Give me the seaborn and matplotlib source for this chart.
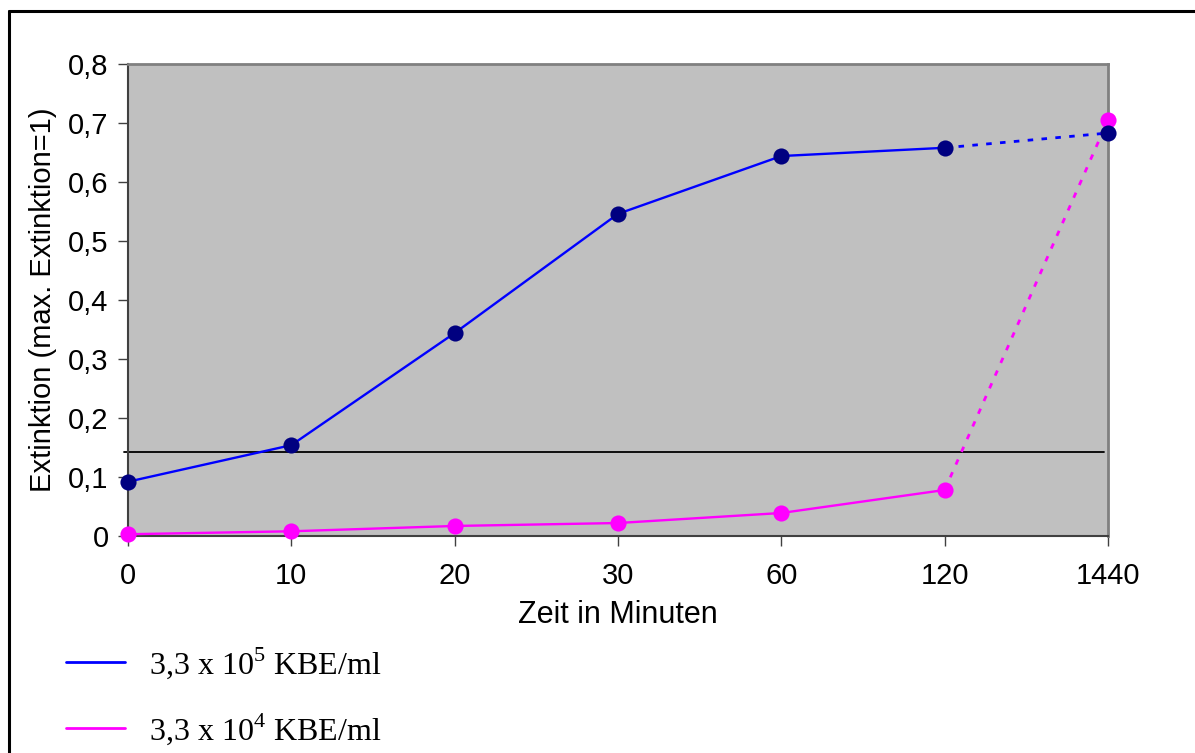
import matplotlib
matplotlib.use("Agg")
import matplotlib.pyplot as plt
import seaborn as sns
import pandas as pd
from matplotlib.lines import Line2D

# ---- data ----
times = ["0", "10", "20", "30", "60", "120", "1440"]
high_conc = [0.092, 0.154, 0.344, 0.546, 0.644, 0.658, 0.683]
low_conc = [0.003, 0.008, 0.017, 0.022, 0.039, 0.078, 0.705]
threshold = 0.143
y_ticks = [0.0, 0.1, 0.2, 0.3, 0.4, 0.5, 0.6, 0.7, 0.8]
y_tick_labels = ["0", "0,1", "0,2", "0,3", "0,4", "0,5", "0,6", "0,7", "0,8"]
label_high = "3,3 x 10$^{\\mathrm{5}}$ KBE/ml"
label_low = "3,3 x 10$^{\\mathrm{4}}$ KBE/ml"

sns.set_theme(style="white")
plt.rcParams["font.family"] = ["Liberation Sans", "DejaVu Sans"]
plt.rcParams["mathtext.fontset"] = "custom"
plt.rcParams["mathtext.rm"] = "Liberation Serif"
plt.rcParams["text.color"] = "black"
plt.rcParams["axes.labelcolor"] = "black"
plt.rcParams["xtick.color"] = "black"
plt.rcParams["ytick.color"] = "black"

BLUE = "#0000FF"
NAVY = "#000080"
MAG = "#FF00FF"

fig = plt.figure(figsize=(11.95, 7.53), dpi=100)
ax = fig.add_axes([128 / 1195, 1 - 536 / 753, 980 / 1195, 472 / 753])
ax.set_facecolor("#C0C0C0")

pos = list(range(len(times)))
df = pd.DataFrame({"pos": pos, "high": high_conc, "low": low_conc})
solid = df.iloc[:-1]
tail = df.iloc[-2:]

# solid segments
sns.lineplot(data=solid, x="pos", y="high", ax=ax, color=BLUE, lw=1.7, zorder=3)
sns.lineplot(data=solid, x="pos", y="low", ax=ax, color=MAG, lw=1.7, zorder=3)
# dotted final segments
sns.lineplot(data=tail, x="pos", y="high", ax=ax, color=BLUE, lw=2.0,
             linestyle=(0, (2, 3)), zorder=3)
sns.lineplot(data=tail, x="pos", y="low", ax=ax, color=MAG, lw=2.0,
             linestyle=(0, (2, 3)), zorder=3)
# markers
sns.scatterplot(data=df, x="pos", y="high", ax=ax, color=NAVY, s=135,
                edgecolor=NAVY, linewidth=0, zorder=5, clip_on=False)
sns.scatterplot(data=df, x="pos", y="low", ax=ax, color=MAG, s=135,
                edgecolor=MAG, linewidth=0, zorder=4, clip_on=False)

ax.axhline(threshold, xmin=-0.004, xmax=0.996, color="black", lw=1.3,
           zorder=2, clip_on=False)

ax.set_xlim(0, len(times) - 1)
ax.set_ylim(0, 0.8)
ax.set_xticks(pos)
ax.set_xticklabels(times)
ax.set_yticks(y_ticks)
ax.set_yticklabels(y_tick_labels)
ax.tick_params(axis="both", which="major", labelsize=21, direction="out",
               length=7, width=1.0, color="#404040",
               bottom=True, left=True)
ax.tick_params(axis="x", pad=12)
ax.tick_params(axis="y", pad=7)
ax.set_xlabel("Zeit in Minuten", fontsize=22, labelpad=7)
ax.set_ylabel("Extinktion (max. Extinktion=1)", fontsize=21, labelpad=8)

for side in ["left", "bottom"]:
    ax.spines[side].set_color("#404040")
    ax.spines[side].set_linewidth(1.5)
for side in ["top", "right"]:
    ax.spines[side].set_color("#808080")
    ax.spines[side].set_linewidth(2.0)

handles = [Line2D([], [], color=BLUE, lw=2.0), Line2D([], [], color=MAG, lw=2.0)]
fig.legend(handles, [label_high, label_low], loc="upper left",
           bbox_to_anchor=(66 / 1195, 1 - 645 / 753), frameon=False,
           prop={"family": "Liberation Serif", "size": 23},
           handlelength=1.85, handletextpad=0.75, labelspacing=0.95,
           borderpad=0, borderaxespad=0)

# outer chart border (open to the right/bottom as in reference)
fig.add_artist(Line2D([9 / 1195, 9 / 1195], [0, 1 - 11 / 753],
                      transform=fig.transFigure, color="black", lw=2.2))
fig.add_artist(Line2D([9 / 1195, 1], [1 - 11 / 753, 1 - 11 / 753],
                      transform=fig.transFigure, color="black", lw=2.2))

fig.savefig("out.png", dpi=100, facecolor="white")
